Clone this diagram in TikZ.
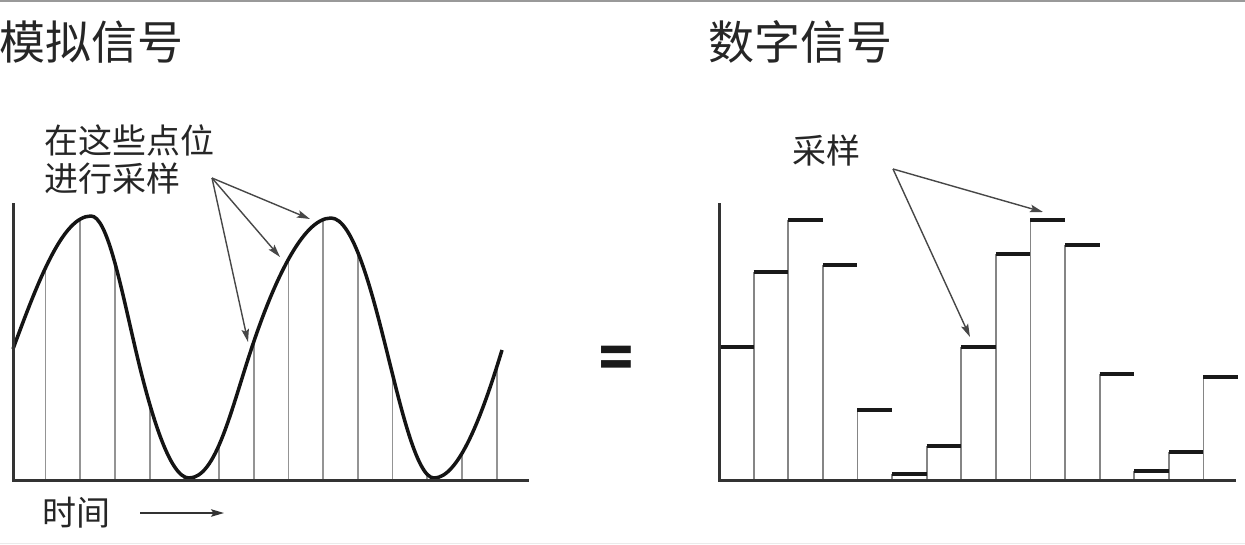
\documentclass[tikz,border=0pt]{standalone}
\usepackage{fontspec}
\newfontfamily\cjk{Noto Sans CJK SC}
\newfontfamily\eqfont{DejaVu Sans}
\usetikzlibrary{arrows.meta}
\begin{document}
\begin{tikzpicture}[x=1pt,y=-1pt,
  axis/.style={line width=3pt, draw=black!80},
  wave/.style={line width=3.5pt, draw=black!92, line join=round},
  sample/.style={line width=1.8pt, draw=black!42},
  level/.style={line width=4pt, draw=black!90},
  riser/.style={line width=1.8pt, draw=black!48},
  pointer/.style={line width=1.4pt, draw=black!72, -{Stealth[length=13pt,width=7.5pt,inset=2.5pt]}},
  title/.style={font=\cjk\fontsize{46}{50}\selectfont, inner sep=0pt, anchor=west, text=black!85},
  label/.style={font=\cjk\fontsize{34}{38}\selectfont, inner sep=0pt, anchor=west, text=black!85},
]
\useasboundingbox (0,0) rectangle (1245,544);
\fill[white] (0,0) rectangle (1245,544);
\draw[black!40, line width=1.5pt] (0,0.75) -- (1245,0.75);
\draw[black!8, line width=1pt] (0,543) -- (1245,543);

% titles
\node[title] (tA) at (-1,42) {模拟信号};
\node[title] (tD) at (708,42) {数字信号};

% ---------- analog ----------
\def\wavepath{(13,349) .. controls (38.2,280.9) and (62.8,216) .. (91,216)
 .. controls (106.9,216) and (120,282.5) .. (135,347)
 .. controls (150,411.5) and (169.5,478) .. (189,478)
 .. controls (216,478) and (231,410) .. (252,347)
 .. controls (273,284) and (302.4,218) .. (331,218)
 .. controls (353,218) and (372,292) .. (386,348)
 .. controls (400,404) and (416.7,478) .. (434,478)
 .. controls (458.6,478) and (482.1,415.7) .. (502,350)}
\begin{scope}
  \clip \wavepath -- (502,480) -- (13,480) -- cycle;
  \foreach \i in {0,...,13} {
    \draw[sample] ({45.5+34.7*\i},480) -- ({45.5+34.7*\i},190);
  }
\end{scope}
\draw[wave] \wavepath;
\draw[axis] (13,203) -- (13,480) -- (529,480);

\node[label] (lab1) at (44,140) {在这些点位};
\node[label] (lab2) at (44,179) {进行采样};
\coordinate (lsrc) at (212,178);
\coordinate (p1) at (248,342);
\coordinate (p2) at (280,257);
\coordinate (p3) at (310,219);
\draw[pointer] (lsrc) -- (p1);
\draw[pointer] (lsrc) -- (p2);
\draw[pointer] (lsrc) -- (p3);

\node[label] (time) at (42,513) {时间};
\coordinate (t0) at (140,513);
\coordinate (t1) at (224,513);
\draw[pointer, line width=1.5pt, draw=black!80] (t0) -- (t1);

% equals
\node[font=\eqfont\bfseries\fontsize{50}{50}\selectfont, inner sep=0pt, text=black!90] (eq) at (616,362) {\scalebox{0.95}[1.3]{=}};

% ---------- digital ----------
\foreach \k/\lv in {1/272.4, 2/219.7, 3/264.7, 4/409.9, 5/474, 6/445.6, 7/346.5,
   8/253.7, 9/219.7, 10/244.7, 11/374.2, 12/470.7, 13/451.6, 14/376.5} {
  \draw[riser] ({719+34.6*\k},480) -- ({719+34.6*\k},\lv);
}
\foreach \k/\lv in {0/346.5, 1/272.4, 2/219.7, 3/264.7, 4/409.9, 5/474, 6/445.6, 7/346.5,
   8/253.7, 9/219.7, 10/244.7, 11/374.2, 12/470.7, 13/451.6, 14/376.5} {
  \draw[level] ({719+34.6*\k},\lv) -- ({719+34.6*(\k+1)},\lv);
}
\draw[axis] (719,203) -- (719,480) -- (1236,480);

\node[label] (lab3) at (792,151) {采样};
\coordinate (rsrc) at (893,169);
\coordinate (q1) at (970,337);
\coordinate (q2) at (1043,212);
\draw[pointer] (rsrc) -- (q1);
\draw[pointer] (rsrc) -- (q2);
\end{tikzpicture}
\end{document}
